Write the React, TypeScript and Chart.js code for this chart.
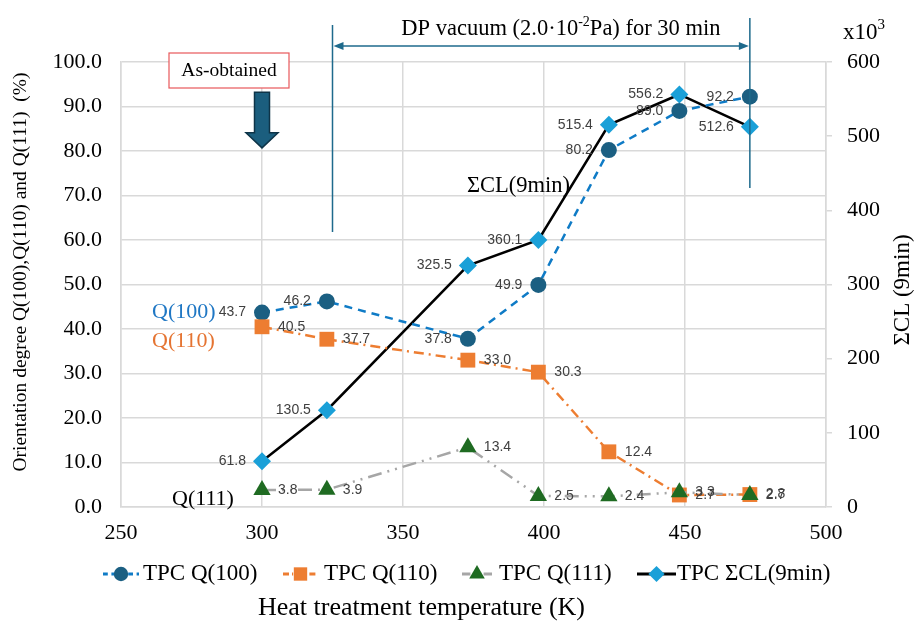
import { useEffect, useRef } from "react";
import { Chart, registerables } from "chart.js";

Chart.register(...registerables);

// Heat treatment temperatures (K)
const temperatures = [300, 323, 373, 398, 423, 448, 473];
// Orientation degrees (%)
const q100 = [43.7, 46.2, 37.8, 49.9, 80.2, 89.0, 92.2];
const q110 = [40.5, 37.7, 33.0, 30.3, 12.4, 2.7, 2.8];
const q111 = [3.8, 3.9, 13.4, 2.5, 2.4, 3.3, 2.7];
// Integrated CL intensity, 9 min (x10^3)
const sigmaCL = [61.8, 130.5, 325.5, 360.1, 515.4, 556.2, 512.6];

const seriesNames = ["TPC Q(100)", "TPC Q(110)", "TPC Q(111)", "TPC ΣCL(9min)"];
const labelSides = ["left", "right", "right", "left"];

// DP vacuum treatment range (K)
const vacuumStart = 325;
const vacuumEnd = 473;

const SERIF = '"Liberation Serif", "Times New Roman", serif';
const SANS = '"Liberation Sans", Arial, sans-serif';

const pairs = (ys: number[]) => ys.map((y, i) => ({ x: temperatures[i], y }));

const styles = [
  { line: "#0F7BC6", fill: "#1B5F82", dash: [8, 6], point: "circle", radius: 8 },
  { line: "#ED7D31", fill: "#ED7D31", dash: [10, 5, 2, 5], point: "rect", radius: 10.5 },
  { line: "#A6A6A6", fill: "#1F6B22", dash: [14, 6, 2, 6, 2, 6], point: "triangle", radius: 10 },
  { line: "#000000", fill: "#1AA0D8", dash: [], point: "rectRot", radius: 9 },
];

function drawMarker(ctx: CanvasRenderingContext2D, kind: string, x: number, y: number, r: number, color: string) {
  ctx.save();
  ctx.fillStyle = color;
  ctx.beginPath();
  if (kind === "circle") {
    ctx.arc(x, y, r, 0, Math.PI * 2);
  } else if (kind === "rect") {
    const h = r * Math.SQRT1_2;
    ctx.rect(x - h, y - h, 2 * h, 2 * h);
  } else if (kind === "triangle") {
    ctx.moveTo(x, y - r);
    ctx.lineTo(x + r * 0.866, y + r * 0.5);
    ctx.lineTo(x - r * 0.866, y + r * 0.5);
    ctx.closePath();
  } else {
    ctx.moveTo(x - r, y);
    ctx.lineTo(x, y - r);
    ctx.lineTo(x + r, y);
    ctx.lineTo(x, y + r);
    ctx.closePath();
  }
  ctx.fill();
  ctx.restore();
}

const overlay = {
  id: "overlay",
  afterDatasetsDraw(chart: any) {
    const ctx: CanvasRenderingContext2D = chart.ctx;
    // value labels next to each point
    chart.data.datasets.forEach((ds: any, i: number) => {
      const meta = chart.getDatasetMeta(i);
      const left = labelSides[i] === "left";
      ctx.save();
      ctx.font = `14px ${SANS}`;
      ctx.fillStyle = "#404040";
      ctx.textBaseline = "middle";
      ctx.textAlign = left ? "right" : "left";
      meta.data.forEach((pt: any, j: number) => {
        ctx.fillText(ds.data[j].y.toFixed(1), pt.x + (left ? -16 : 16), pt.y);
      });
      ctx.restore();
    });
  },
  afterDraw(chart: any) {
    const ctx: CanvasRenderingContext2D = chart.ctx;
    const xs = chart.scales.x;
    const ys = chart.scales.y;
    const px = (v: number) => xs.getPixelForValue(v);
    const py = (v: number) => ys.getPixelForValue(v);
    const area = chart.chartArea;

    ctx.save();
    // vacuum range markers
    const teal = "#1E6A8C";
    ctx.strokeStyle = teal;
    ctx.lineWidth = 1.5;
    ctx.beginPath();
    ctx.moveTo(px(vacuumStart), py(108.3));
    ctx.lineTo(px(vacuumStart), py(61.8));
    ctx.moveTo(px(vacuumEnd), py(109.9));
    ctx.lineTo(px(vacuumEnd), py(71.7));
    ctx.stroke();

    const ay = py(103.6);
    const a1 = px(vacuumStart) + 1;
    const a2 = px(vacuumEnd) - 1;
    ctx.beginPath();
    ctx.moveTo(a1 + 8, ay);
    ctx.lineTo(a2 - 8, ay);
    ctx.stroke();
    ctx.fillStyle = teal;
    ctx.beginPath();
    ctx.moveTo(a1, ay);
    ctx.lineTo(a1 + 10, ay - 4);
    ctx.lineTo(a1 + 10, ay + 4);
    ctx.closePath();
    ctx.moveTo(a2, ay);
    ctx.lineTo(a2 - 10, ay - 4);
    ctx.lineTo(a2 - 10, ay + 4);
    ctx.closePath();
    ctx.fill();

    // vacuum caption with superscript exponent
    ctx.fillStyle = "#000";
    ctx.textBaseline = "alphabetic";
    ctx.textAlign = "left";
    const big = `22.5px ${SERIF}`;
    const small = `14px ${SERIF}`;
    const partA = "DP vacuum (2.0·10";
    const partB = "-2";
    const partC = "Pa) for 30 min";
    ctx.font = big;
    const wA = ctx.measureText(partA).width;
    const wC = ctx.measureText(partC).width;
    ctx.font = small;
    const wB = ctx.measureText(partB).width;
    let tx = px(406) - (wA + wB + wC) / 2;
    const tb = 35;
    ctx.font = big;
    ctx.fillText(partA, tx, tb);
    tx += wA;
    ctx.font = small;
    ctx.fillText(partB, tx, tb - 9);
    tx += wB;
    ctx.font = big;
    ctx.fillText(partC, tx, tb);

    // right axis multiplier
    ctx.font = `23px ${SERIF}`;
    ctx.fillText("x10", 843, 39);
    const wx = ctx.measureText("x10").width;
    ctx.font = `15px ${SERIF}`;
    ctx.fillText("3", 843 + wx, 29);

    // "As-obtained" box and arrow
    const bx = px(300) - 93;
    ctx.fillStyle = "#fff";
    ctx.fillRect(bx, 53, 120, 35);
    ctx.strokeStyle = "#E8585A";
    ctx.lineWidth = 1.2;
    ctx.strokeRect(bx, 53, 120, 35);
    ctx.fillStyle = "#000";
    ctx.font = `19.5px ${SERIF}`;
    ctx.textAlign = "center";
    ctx.textBaseline = "middle";
    ctx.fillText("As-obtained", bx + 60, 71);

    const cx = px(300);
    const top = py(93.2);
    const neck = py(84.1);
    const tip = py(80.7);
    ctx.beginPath();
    ctx.moveTo(cx - 7.5, top);
    ctx.lineTo(cx + 7.5, top);
    ctx.lineTo(cx + 7.5, neck);
    ctx.lineTo(cx + 16, neck);
    ctx.lineTo(cx, tip);
    ctx.lineTo(cx - 16, neck);
    ctx.lineTo(cx - 7.5, neck);
    ctx.closePath();
    ctx.fillStyle = "#1B5E7E";
    ctx.fill();
    ctx.strokeStyle = "#0E3448";
    ctx.lineWidth = 1.5;
    ctx.stroke();

    // in-plot series captions
    ctx.textAlign = "left";
    ctx.textBaseline = "alphabetic";
    ctx.font = `22px ${SERIF}`;
    ctx.fillStyle = "#1F77C4";
    ctx.fillText("Q(100)", 152, 318);
    ctx.fillStyle = "#E57432";
    ctx.fillText("Q(110)", 152, 347);
    ctx.fillStyle = "#000";
    ctx.fillText("Q(111)", 172, 505);
    ctx.font = `22.5px ${SERIF}`;
    ctx.fillText("ΣCL(9min)", 467, 192);

    // axis titles
    ctx.save();
    ctx.translate(21, 272);
    ctx.rotate(-Math.PI / 2);
    ctx.textAlign = "center";
    ctx.textBaseline = "middle";
    ctx.font = `19.5px ${SERIF}`;
    ctx.fillText("Orientation degree Q(100),Q(110) and Q(111)  (%)", 0, 0);
    ctx.restore();

    ctx.save();
    ctx.translate(903, 290);
    ctx.rotate(-Math.PI / 2);
    ctx.textAlign = "center";
    ctx.textBaseline = "middle";
    ctx.font = `23px ${SERIF}`;
    ctx.fillText("ΣCL (9min)", 0, 0);
    ctx.restore();

    ctx.textAlign = "center";
    ctx.textBaseline = "middle";
    ctx.font = `26px ${SERIF}`;
    ctx.fillText("Heat treatment temperature (K)", (area.left + area.right) / 2 - 52, 608);

    // legend
    const legendY = 574;
    const items = [
      { x1: 103, x2: 139, tx: 143 },
      { x1: 283, x2: 318, tx: 324 },
      { x1: 462, x2: 492, tx: 499 },
      { x1: 637, x2: 676, tx: 677 },
    ];
    ctx.textAlign = "left";
    ctx.font = `23px ${SERIF}`;
    items.forEach((it, i) => {
      const s = styles[i];
      ctx.save();
      ctx.strokeStyle = s.line;
      ctx.lineWidth = 3;
      ctx.setLineDash(s.dash.length ? s.dash.map((d) => d * 0.6) : []);
      ctx.beginPath();
      ctx.moveTo(it.x1, legendY);
      ctx.lineTo(it.x2, legendY);
      ctx.stroke();
      ctx.restore();
      drawMarker(ctx, s.point, (it.x1 + it.x2) / 2, legendY, s.radius * 0.9, s.fill);
      ctx.fillStyle = "#000";
      ctx.fillText(seriesNames[i], it.tx, legendY);
    });
    ctx.restore();
  },
};

export default function App() {
  const canvasRef = useRef<HTMLCanvasElement | null>(null);

  useEffect(() => {
    const canvas = canvasRef.current;
    if (!canvas) return;
    const values = [q100, q110, q111, sigmaCL];
    const drawOrder = [2, 1, 0, 3];
    const datasets = values.map((vals, i) => ({
      label: seriesNames[i],
      data: pairs(vals),
      yAxisID: i === 3 ? "y2" : "y",
      borderColor: styles[i].line,
      borderWidth: 2.5,
      borderDash: styles[i].dash,
      backgroundColor: styles[i].fill,
      pointStyle: styles[i].point,
      pointRadius: styles[i].radius,
      pointBackgroundColor: styles[i].fill,
      pointBorderWidth: 0,
      pointHoverRadius: styles[i].radius,
      tension: 0,
      fill: false,
      order: drawOrder[i],
    }));

    const grid = "#D9D9D9";
    const tickFont = { family: SERIF, size: 22 };

    const chart = new Chart(canvas, {
      type: "line",
      data: { datasets },
      plugins: [overlay],
      options: {
        responsive: false,
        animation: false,
        events: [],
        layout: { padding: { top: 62, bottom: 77, left: 0, right: 0 } },
        plugins: {
          legend: { display: false },
          tooltip: { enabled: false },
        },
        scales: {
          x: {
            type: "linear",
            min: 250,
            max: 500,
            ticks: { stepSize: 50, font: tickFont, color: "#000", padding: 13 },
            grid: { color: grid, lineWidth: 1.5, drawTicks: false },
            border: { color: grid, width: 1.5 },
            afterFit: (s: any) => {
              s.height = 40;
            },
          },
          y: {
            type: "linear",
            position: "left",
            min: 0,
            max: 100,
            ticks: {
              stepSize: 10,
              font: tickFont,
              color: "#000",
              padding: 19,
              callback: (v: any) => Number(v).toFixed(1),
            },
            grid: { color: grid, lineWidth: 1.5, drawTicks: false },
            border: { color: grid, width: 1.5 },
            afterFit: (s: any) => {
              s.width = 121;
            },
          },
          y2: {
            type: "linear",
            position: "right",
            min: 0,
            max: 600,
            ticks: { stepSize: 100, font: tickFont, color: "#000", padding: 15 },
            grid: { drawOnChartArea: false, color: grid, lineWidth: 1.5, tickLength: 6 },
            border: { color: grid, width: 1.5 },
            afterFit: (s: any) => {
              s.width = 91;
            },
          },
        },
      },
    } as any);

    return () => chart.destroy();
  }, []);

  return (
    <div style={{ position: "fixed", left: 0, top: 0, width: 917, height: 624, background: "#fff" }}>
      <canvas ref={canvasRef} width={917} height={624} />
    </div>
  );
}
